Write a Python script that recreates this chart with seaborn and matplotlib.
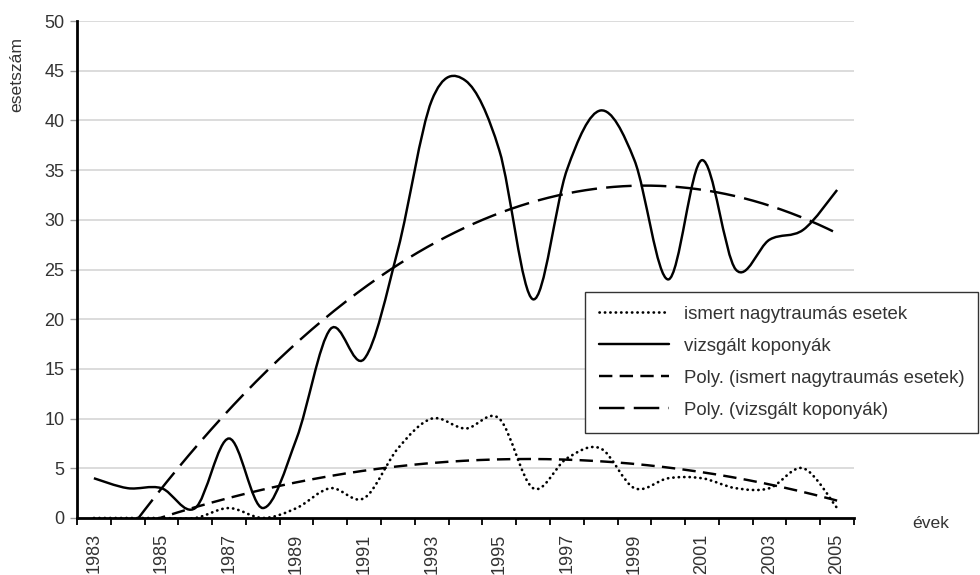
import numpy as np
import pandas as pd
import matplotlib
matplotlib.use("Agg")
import matplotlib.pyplot as plt
import seaborn as sns
from matplotlib.path import Path
from matplotlib.patches import PathPatch
from matplotlib.lines import Line2D

# ---------------- data ----------------
years = list(range(1983, 2006))
ismert = [0, 0, 0, 0, 1, 0, 1, 3, 2, 7, 10, 9, 10, 3, 6, 7, 3, 4, 4, 3, 3, 5, 1]
vizsgalt = [4, 3, 3, 1, 8, 1, 8, 19, 16, 27, 42, 44, 37, 22, 35, 41, 36, 24, 36, 25, 28, 29, 33]
series_labels = ["ismert nagytraumás esetek", "vizsgált koponyák",
                 "Poly. (ismert nagytraumás esetek)", "Poly. (vizsgált koponyák)"]
y_label = "esetszám"
x_label = "évek"

# ---------------- style ----------------
sns.set_theme(style="whitegrid")
plt.rcParams["font.family"] = ["Liberation Sans", "DejaVu Sans"]
TXT = "#333333"

df = pd.DataFrame({"year": years, "pos": np.arange(len(years)),
                   "ismert": ismert, "vizsgalt": vizsgalt})

fig = plt.figure(figsize=(9.8, 5.75), dpi=100)
fig.patch.set_facecolor("white")
ax = fig.add_axes([77 / 980, 1 - 518 / 575, (854 - 77) / 980, (518 - 21) / 575])
ax.set_facecolor("white")


def smooth_path(xs, ys):
    """Excel-like smoothed line (Catmull-Rom as cubic Bezier) in data coords."""
    P = np.column_stack([xs, ys]).astype(float)
    n = len(P)
    verts = [P[0]]
    codes = [Path.MOVETO]
    for k in range(n - 1):
        p0 = P[k - 1] if k > 0 else P[k]
        p1 = P[k]
        p2 = P[k + 1]
        p3 = P[k + 2] if k + 2 < n else P[k + 1]
        c1 = p1 + (p2 - p0) / 6.0
        c2 = p2 - (p3 - p1) / 6.0
        verts += [c1, c2, p2]
        codes += [Path.CURVE4] * 3
    return Path(verts, codes)


LW = 1.75
DOT = (0, (0.1, 1.9))
SHORT = (0, (5.5, 3))
LONG = (0, (10.5, 3.8))

# trendlines (2nd order polynomial fits) drawn with seaborn
xx = np.linspace(0, len(years) - 1, 400)
for col, ls in [("ismert", SHORT), ("vizsgalt", LONG)]:
    coef = np.polyfit(df["pos"], df[col], 2)
    tr = pd.DataFrame({"x": xx, "y": np.polyval(coef, xx)})
    sns.lineplot(data=tr, x="x", y="y", ax=ax, color="black", lw=LW,
                 linestyle=ls, legend=False, zorder=3)
for l in ax.lines:
    l.set_dash_capstyle("butt")

# smoothed data series
ax.add_patch(PathPatch(smooth_path(df["pos"], df["ismert"]), facecolor="none",
                       edgecolor="black", lw=LW + 0.2, linestyle=DOT,
                       capstyle="round", zorder=4))
ax.add_patch(PathPatch(smooth_path(df["pos"], df["vizsgalt"]), facecolor="none",
                       edgecolor="black", lw=LW, linestyle="-", zorder=4))

# ---------------- axes ----------------
ax.set_xlim(-0.5, len(years) - 0.5)
ax.set_ylim(0, 50)
ax.set_yticks(np.arange(0, 51, 5))
ax.set_xticks(np.arange(-0.5, len(years), 1))
ax.set_xticklabels([])
ax.set_xticks(np.arange(0, len(years), 2), minor=True)
ax.set_xticklabels([str(y) for y in years[::2]], minor=True, rotation=90)
ax.set_xlabel("")
ax.set_ylabel("")

ax.grid(axis="y", which="major", color="#d9d9d9", lw=1.3)
ax.grid(axis="x", which="both", visible=False)

ax.tick_params(axis="x", which="major", length=5, width=1.3, color="black",
               direction="out", bottom=True)
ax.tick_params(axis="x", which="minor", length=0, pad=11, labelsize=13,
               labelcolor=TXT, bottom=True)
ax.tick_params(axis="y", which="major", length=5, width=1.0, color="#999999",
               direction="out", pad=4, labelsize=13, labelcolor=TXT, left=True)

for s in ["top", "right"]:
    ax.spines[s].set_visible(False)
for s in ["left", "bottom"]:
    ax.spines[s].set_color("black")
    ax.spines[s].set_linewidth(2.0)
    ax.spines[s].set_zorder(5)

fig.text(17 / 980, 1 - 75 / 575, y_label, rotation=90, ha="center", va="center",
         fontsize=12.6, color=TXT)
fig.text(912 / 980, 1 - 523 / 575, x_label, ha="left", va="center",
         fontsize=12.6, color=TXT)

# ---------------- legend ----------------
handles = [
    Line2D([], [], color="black", lw=LW + 0.2, linestyle=DOT, dash_capstyle="round"),
    Line2D([], [], color="black", lw=LW, linestyle="-"),
    Line2D([], [], color="black", lw=LW, linestyle=SHORT, dash_capstyle="butt"),
    Line2D([], [], color="black", lw=LW, linestyle=LONG, dash_capstyle="butt"),
]
leg = fig.legend(handles, series_labels, loc="upper left",
                 bbox_to_anchor=(585 / 980, 1 - 292 / 575), bbox_transform=fig.transFigure,
                 borderaxespad=0, borderpad=0.75, handlelength=3.75, handletextpad=0.8,
                 labelspacing=0.8, fontsize=13.4, frameon=True, fancybox=False,
                 framealpha=1, edgecolor="#333333", facecolor="white")
leg.get_frame().set_linewidth(1.0)
for t in leg.get_texts():
    t.set_color(TXT)

fig.savefig("out.png", dpi=100, facecolor="white")
